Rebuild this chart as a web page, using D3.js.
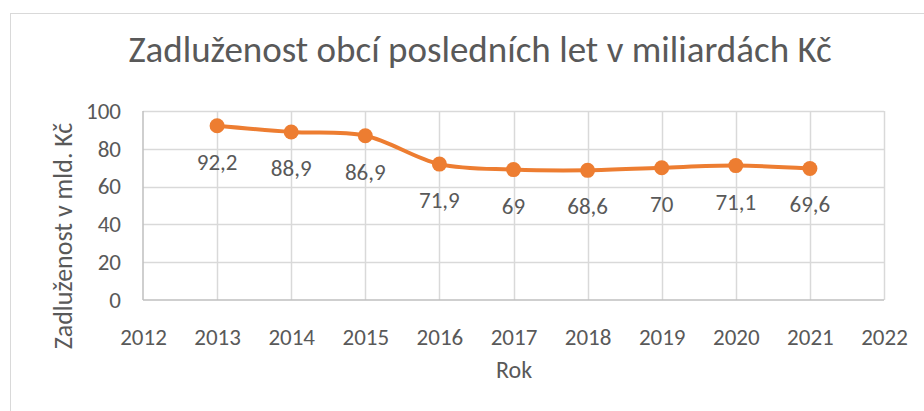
<!DOCTYPE html>
<html>
<head>
<meta charset="utf-8">
<script src="https://cdn.jsdelivr.net/npm/d3@7"></script>
<style>
  body { margin: 0; background: #fff; }
  text { font-family: Carlito, Lato, sans-serif; fill: #595959; }
</style>
</head>
<body>
<div id="chart"></div>
<script>
// Chart size and plot area
const width = 924;
const height = 411;
const margin = {left: 143, right: 40, top: 111, bottom: 111};

// Data
const years = [2013, 2014, 2015, 2016, 2017, 2018, 2019, 2020, 2021];
const debt = [92.2, 88.9, 86.9, 71.9, 69, 68.6, 70, 71.1, 69.6];
const labels = ["92,2", "88,9", "86,9", "71,9", "69", "68,6", "70", "71,1", "69,6"];
const xTicks = [2012, 2013, 2014, 2015, 2016, 2017, 2018, 2019, 2020, 2021, 2022];
const yTicks = [0, 20, 40, 60, 80, 100];

const data = years.map((y, i) => ({year: y, value: debt[i], label: labels[i]}));

const svg = d3.select("#chart")
  .append("svg")
  .attr("width", width)
  .attr("height", height);

// outer chart border
svg.append("rect")
  .attr("x", 10.5).attr("y", 13.5)
  .attr("width", width).attr("height", height)
  .attr("fill", "none")
  .attr("stroke", "#d9d9d9");

let xScale = d3.scaleLinear()
  .domain([2012, 2022])
  .range([margin.left, width - margin.right]);

let yScale = d3.scaleLinear()
  .domain([0, 100])
  .range([height - margin.bottom, margin.top]);

// gridlines
svg.append("g")
  .selectAll("line.h")
  .data(yTicks.slice(1))
  .enter()
  .append("line")
    .attr("x1", xScale(2012)).attr("x2", xScale(2022))
    .attr("y1", d => Math.round(yScale(d)) + 0.5)
    .attr("y2", d => Math.round(yScale(d)) + 0.5)
    .attr("stroke", "#d9d9d9").attr("stroke-width", 1.5);

svg.append("g")
  .selectAll("line.v")
  .data(xTicks.slice(1))
  .enter()
  .append("line")
    .attr("x1", d => Math.round(xScale(d)) + 0.5)
    .attr("x2", d => Math.round(xScale(d)) + 0.5)
    .attr("y1", yScale(0)).attr("y2", yScale(100))
    .attr("stroke", "#d9d9d9").attr("stroke-width", 1.5);

// axes lines
svg.append("line")
  .attr("x1", xScale(2012)).attr("x2", xScale(2022))
  .attr("y1", yScale(0)).attr("y2", yScale(0))
  .attr("stroke", "#bfbfbf").attr("stroke-width", 1.5);
svg.append("line")
  .attr("x1", xScale(2012)).attr("x2", xScale(2012))
  .attr("y1", yScale(0)).attr("y2", yScale(100))
  .attr("stroke", "#bfbfbf").attr("stroke-width", 1.5);

// tick labels
svg.append("g")
  .attr("transform", `translate(0,${yScale(0)})`)
  .call(d3.axisBottom(xScale).tickValues(xTicks).tickFormat(d3.format("d")).tickSize(0).tickPadding(29))
  .call(g => g.select(".domain").remove())
  .selectAll("text")
    .attr("font-size", "23px")
    .attr("fill", "#595959");

svg.append("g")
  .attr("transform", `translate(${margin.left},0)`)
  .call(d3.axisLeft(yScale).tickValues(yTicks).tickSize(0).tickPadding(22))
  .call(g => g.select(".domain").remove())
  .selectAll("text")
    .attr("font-size", "23px")
    .attr("fill", "#595959");

// smoothed line
const line = d3.line()
  .x(d => xScale(d.year))
  .y(d => yScale(d.value))
  .curve(d3.curveCatmullRom.alpha(0.5));

svg.append("path")
  .datum(data)
  .attr("d", line)
  .attr("fill", "none")
  .attr("stroke", "#ed7d31")
  .attr("stroke-width", 4)
  .attr("stroke-linecap", "round");

svg.selectAll("circle")
  .data(data)
  .enter()
  .append("circle")
    .attr("cx", d => xScale(d.year))
    .attr("cy", d => yScale(d.value))
    .attr("r", 7.5)
    .attr("fill", "#ed7d31");

// data labels
svg.selectAll(".lbl")
  .data(data)
  .enter()
  .append("text")
    .attr("class", "lbl")
    .attr("x", d => xScale(d.year))
    .attr("y", d => yScale(d.value) + 44)
    .attr("text-anchor", "middle")
    .attr("font-size", "23px")
    .attr("fill", "#404040")
    .text(d => d.label);

// title
svg.append("text")
  .attr("x", 480)
  .attr("y", 62)
  .attr("text-anchor", "middle")
  .attr("font-size", "37px")
  .text("Zadluženost obcí posledních let v miliardách Kč");

// axis titles
svg.append("text")
  .attr("x", 514)
  .attr("y", 378)
  .attr("text-anchor", "middle")
  .attr("font-size", "24px")
  .text("Rok");

svg.append("text")
  .attr("transform", "translate(72,236) rotate(-90)")
  .attr("text-anchor", "middle")
  .attr("font-size", "26px")
  .text("Zadluženost v mld. Kč");
</script>
</body>
</html>
